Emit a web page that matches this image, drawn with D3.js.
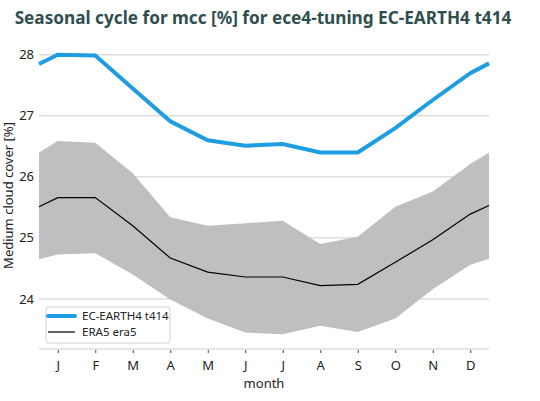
<!DOCTYPE html>
<html><head><meta charset="utf-8">
<script src="https://cdn.jsdelivr.net/npm/d3@7"></script>
<style>body{margin:0;background:#fff;}svg{display:block;font-family:"Noto Sans",sans-serif;}</style>
</head><body><div id="chart"></div>
<script>
const monthLabels = ["J","F","M","A","M","J","J","A","S","O","N","D"];
const monthPos = [1,2,3,4,5,6,7,8,9,10,11,12];
// x positions of the plotted points (edges wrap the year)
const xPoints = [0.5,1,2,3,4,5,6,7,8,9,10,11,12,12.5];
const ecEarth = [27.85,28.00,27.99,27.45,26.91,26.60,26.51,26.54,26.40,26.40,26.80,27.26,27.70,27.86];
const era5 = [25.51,25.66,25.66,25.20,24.67,24.44,24.36,24.36,24.22,24.24,24.60,24.97,25.39,25.53];
const era5Upper = [26.40,26.59,26.56,26.06,25.34,25.20,25.24,25.28,24.90,25.02,25.51,25.76,26.21,26.40];
const era5Lower = [24.65,24.73,24.75,24.40,23.99,23.68,23.45,23.42,23.56,23.46,23.68,24.16,24.56,24.66];
const yTicks = [24,25,26,27,28];
const seriesNames = ["EC-EARTH4 t414","ERA5 era5"];

const W=540,H=401;
const svg=d3.select("#chart").append("svg").attr("width",W).attr("height",H);
const x=d3.scaleLinear().domain([0.5,12.5]).range([39,489]);
const y=d3.scaleLinear().domain([23.18,28.21]).range([349,42]);

// gridlines
svg.append("g").selectAll("line").data(yTicks).join("line")
  .attr("x1",x(0.5)).attr("x2",x(12.5)).attr("y1",d=>y(d)).attr("y2",d=>y(d))
  .attr("stroke","#cccccc").attr("stroke-width",1);

// y labels
svg.append("g").selectAll("text").data(yTicks).join("text")
  .attr("x",34).attr("y",d=>y(d)).attr("dy","0.35em").attr("text-anchor","end")
  .attr("font-size",13).attr("fill","#222").text(d=>d);

const idx=d3.range(xPoints.length);
// band
svg.append("path").datum(idx)
  .attr("d",d3.area().x(i=>x(xPoints[i])).y0(i=>y(era5Lower[i])).y1(i=>y(era5Upper[i])))
  .attr("fill","#bfbfbf");
// era5 line
svg.append("path").datum(idx)
  .attr("d",d3.line().x(i=>x(xPoints[i])).y(i=>y(era5[i])))
  .attr("fill","none").attr("stroke","#000").attr("stroke-width",1.2);
// ec-earth line
svg.append("path").datum(idx)
  .attr("d",d3.line().x(i=>x(xPoints[i])).y(i=>y(ecEarth[i])))
  .attr("fill","none").attr("stroke","#1f9de2").attr("stroke-width",4);

// x axis
const xa=svg.append("g").attr("transform","translate(0,349)")
  .call(d3.axisBottom(x).tickValues(monthPos).tickFormat((d,i)=>monthLabels[i]).tickSize(4).tickPadding(8));
xa.select(".domain").attr("stroke","#cccccc").attr("d","M"+x(0.5)+",0H"+x(12.5));
xa.selectAll(".tick line").attr("stroke","#444").attr("y1",1);
xa.selectAll("text").attr("font-size",13).attr("fill","#222").attr("font-family","Noto Sans");

svg.append("text").attr("x",264).attr("y",388).attr("text-anchor","middle")
  .attr("font-size",13).attr("fill","#222").text("month");
svg.append("text").attr("transform","translate(13,195.5) rotate(-90)").attr("text-anchor","middle")
  .attr("font-size",13).attr("fill","#222").text("Medium cloud cover [%]");
svg.append("text").attr("x",263).attr("y",24).attr("text-anchor","middle")
  .attr("font-size",17.2).attr("font-weight","bold").attr("fill","#2f4f4f")
  .text("Seasonal cycle for mcc [%] for ece4-tuning EC-EARTH4 t414");

// legend
const lg=svg.append("g");
lg.append("rect").attr("x",46).attr("y",307).attr("width",124).attr("height",36).attr("rx",3)
  .attr("fill","#fff").attr("fill-opacity",0.85).attr("stroke","#d0d0d0");
const lcol=["#1f9de2","#000"], lw=[4,1.2], ly=[316,332];
seriesNames.forEach((n,i)=>{
  lg.append("line").attr("x1",48).attr("x2",75).attr("y1",ly[i]).attr("y2",ly[i])
    .attr("stroke",lcol[i]).attr("stroke-width",lw[i]).attr("stroke-linecap",i==0?"round":"butt");
  lg.append("text").attr("x",82).attr("y",ly[i]).attr("dy","0.35em").attr("font-size",11.5).attr("fill","#222").text(n);
});
</script></body></html>
